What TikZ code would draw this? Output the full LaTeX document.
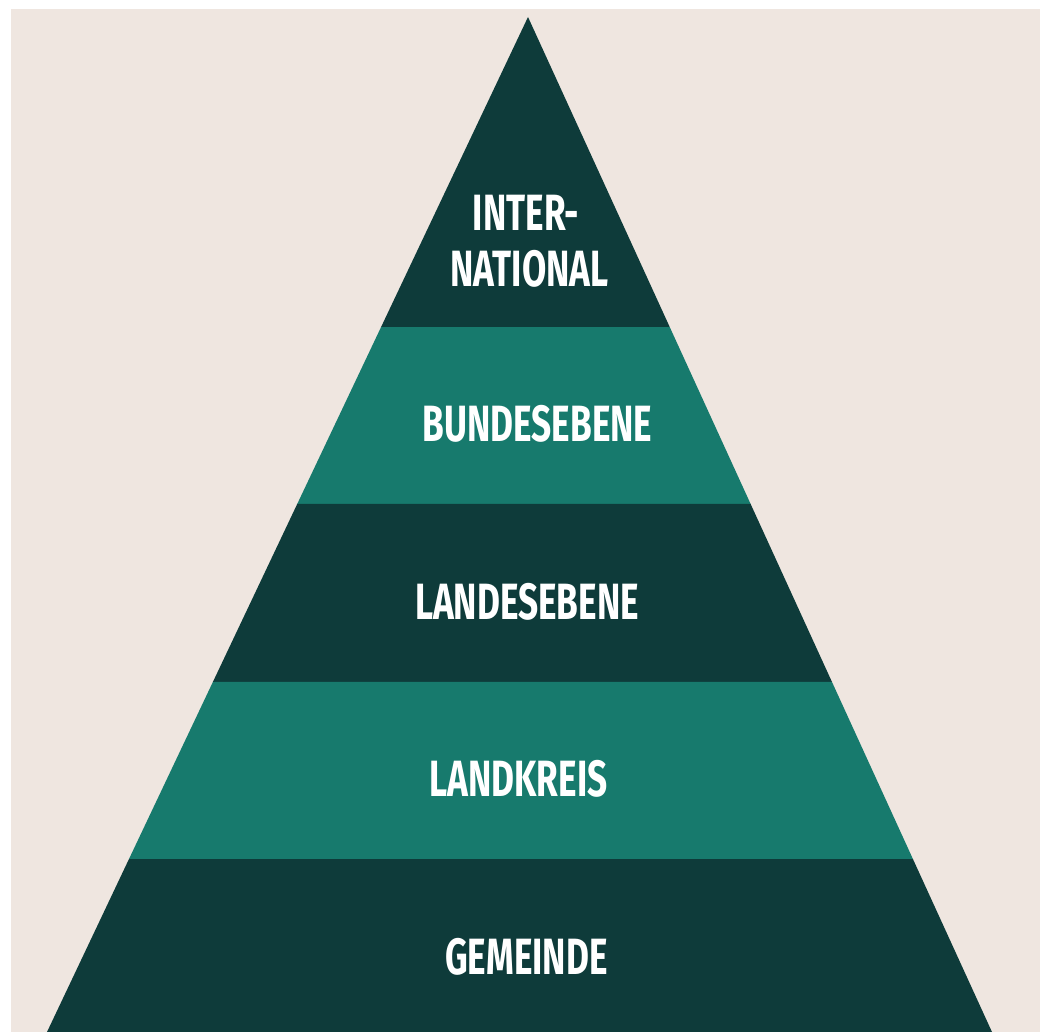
\documentclass[tikz,border=0pt]{standalone}
\usepackage{fontspec}
\setmainfont{Fira Sans}
\newfontfamily\labelfont[FakeStretch=0.69]{Fira Sans Bold}
\usetikzlibrary{calc}
\definecolor{bgc}{HTML}{EFE6E0}
\definecolor{darkband}{HTML}{0E3B3A}
\definecolor{tealband}{HTML}{177A6D}
\tikzset{
  lbl/.style={text=white, inner sep=0pt, font=\labelfont\fontsize{51}{51}\selectfont},
}
\begin{document}
\begin{tikzpicture}[x=1pt,y=-1pt]
\useasboundingbox (0,0) rectangle (1044,1032);
\fill[bgc] (11,9) rectangle (1040,1032);
\coordinate (A) at (528,17);
\coordinate (BL) at (47,1032);
\coordinate (BR) at (992,1032);
% band boundaries
\foreach \n/\t in {1/0.30542,2/0.47980,3/0.65517,4/0.82956}{
  \coordinate (L\n) at ($(A)!\t!(BL)$);
  \coordinate (R\n) at ($(A)!\t!(BR)$);
}
\fill[darkband] (A) -- (R1) -- (L1) -- cycle;
\fill[tealband] (L1) -- (R1) -- (R2) -- (L2) -- cycle;
\fill[darkband] (L2) -- (R2) -- (R3) -- (L3) -- cycle;
\fill[tealband] (L3) -- (R3) -- (R4) -- (L4) -- cycle;
\fill[darkband] (L4) -- (R4) -- (BR) -- (BL) -- cycle;
\node[lbl] (inter) at (526,212.5) {INTER-};
\node[lbl] (national) at (529.5,269) {NATIONAL};
\node[lbl] (bund) at (537.5,423.5) {BUNDESEBENE};
\node[lbl] (land) at (527,601.5) {LANDESEBENE};
\node[lbl] (kreis) at (518.5,778.5) {LANDKREIS};
\node[lbl] (gem) at (526.5,956.5) {GEMEINDE};
\end{tikzpicture}
\end{document}
